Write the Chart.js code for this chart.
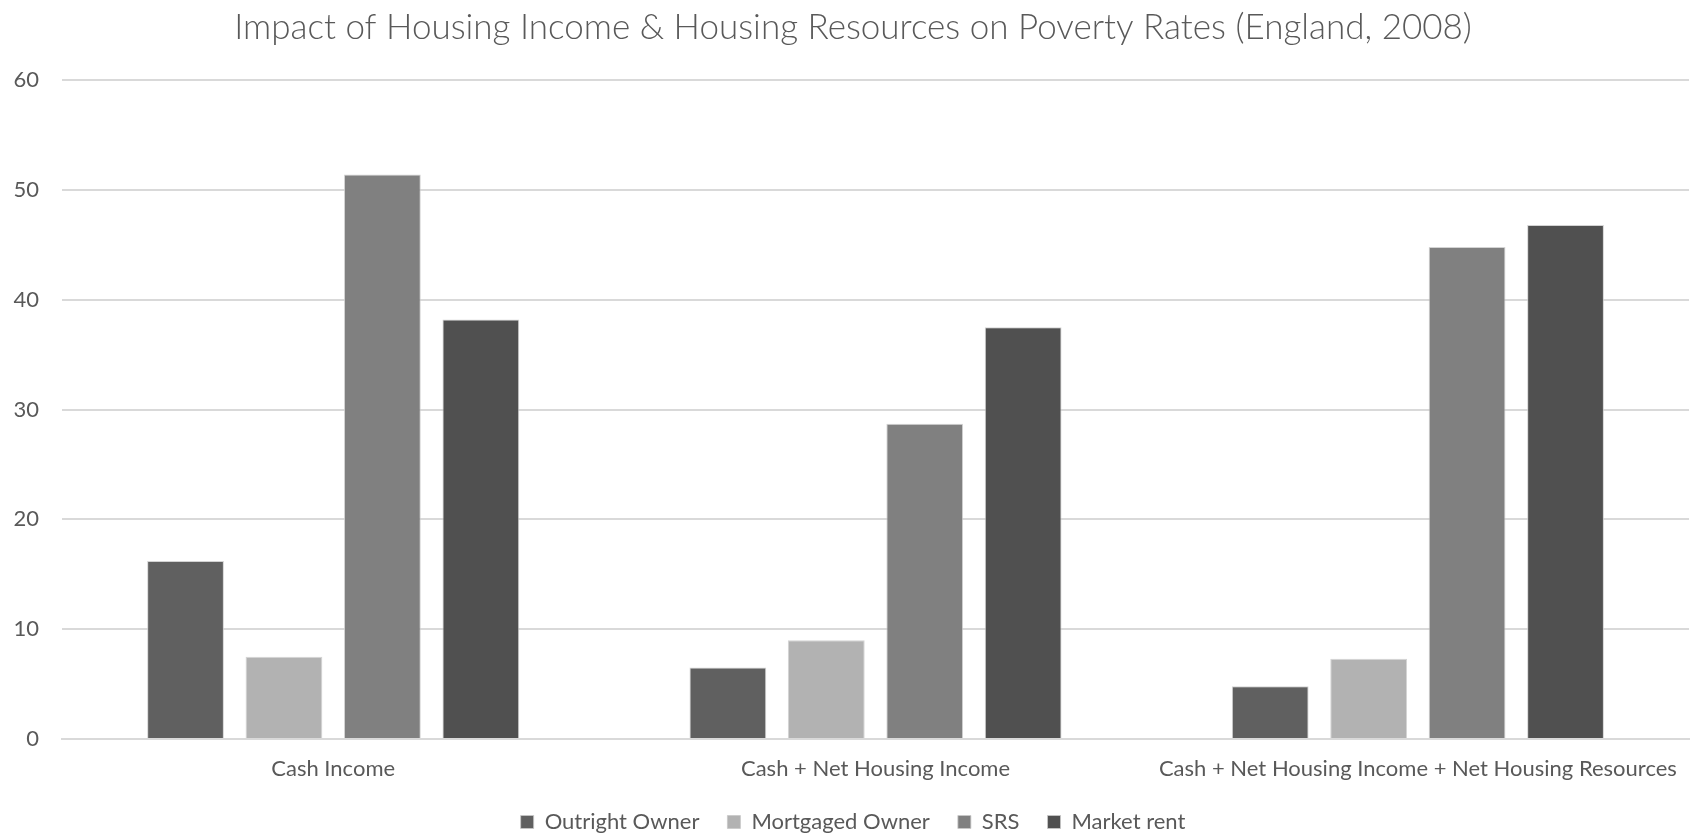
<!DOCTYPE html>
<html>
<head>
<meta charset="utf-8">
<script src="https://cdn.jsdelivr.net/npm/chart.js@4.4.0/dist/chart.umd.min.js"></script>
<style>
  html, body { margin: 0; padding: 0; background: #ffffff; }
  #wrap { width: 1694px; height: 835px; }
</style>
</head>
<body>
<div id="wrap"><canvas id="chart" width="1694" height="835"></canvas></div>
<script>
// categories and series (poverty rate, %)
const categories = ['Cash Income', 'Cash + Net Housing Income', 'Cash + Net Housing Income + Net Housing Resources'];
const outrightOwner = [16.2, 6.5, 4.8];
const mortgagedOwner = [7.5, 9.0, 7.3];
const srs = [51.4, 28.7, 44.8];
const marketRent = [38.2, 37.5, 46.8];
const yTicks = [0, 10, 20, 30, 40, 50, 60];

const font = 'Lato, "Open Sans", sans-serif';

const makeSet = (label, data, color) => ({
    label: label,
    data: data,
    backgroundColor: color,
    borderColor: 'rgba(200,200,200,0.8)',
    borderWidth: 1,
    categoryPercentage: 0.726,
    barPercentage: 0.78
});

const ctx = document.getElementById('chart').getContext('2d');
const chart = new Chart(ctx, {
    type: 'bar',
    data: {
        labels: categories,
        datasets: [
            makeSet('Outright Owner', outrightOwner, '#606060'),
            makeSet('Mortgaged Owner', mortgagedOwner, '#b2b2b2'),
            makeSet('SRS', srs, '#808080'),
            makeSet('Market rent', marketRent, '#505050')
        ]
    },
    options: {
        responsive: false,
        animation: false,
        layout: { padding: { top: 7, left: 13, right: 1, bottom: -8 } },
        plugins: {
            title: {
                display: true,
                text: 'Impact of Housing Income & Housing Resources on Poverty Rates (England, 2008)',
                color: '#595959',
                font: { family: font, size: 35, weight: '300' },
                padding: { top: 0, bottom: 31 }
            },
            legend: {
                position: 'bottom',
                labels: {
                    color: '#595959',
                    font: { family: font, size: 22 },
                    boxWidth: 13,
                    boxHeight: 13,
                    padding: 28
                }
            },
            tooltip: { enabled: false }
        },
        scales: {
            x: {
                grid: { display: false, drawTicks: false },
                border: { color: '#d9d9d9', width: 2 },
                ticks: {
                    color: '#595959',
                    font: { family: font, size: 22 },
                    padding: 17,
                    maxRotation: 0
                },
                afterFit: axis => { axis.height = 44; }
            },
            y: {
                min: 0,
                max: 60,
                afterBuildTicks: axis => { axis.ticks = yTicks.map(v => ({ value: v })); },
                afterFit: axis => { axis.width = 49; },
                grid: { color: '#d9d9d9', lineWidth: 2, drawTicks: false },
                border: { display: false },
                ticks: {
                    color: '#595959',
                    font: { family: font, size: 22 },
                    padding: 23
                }
            }
        }
    }
});
</script>
</body>
</html>
